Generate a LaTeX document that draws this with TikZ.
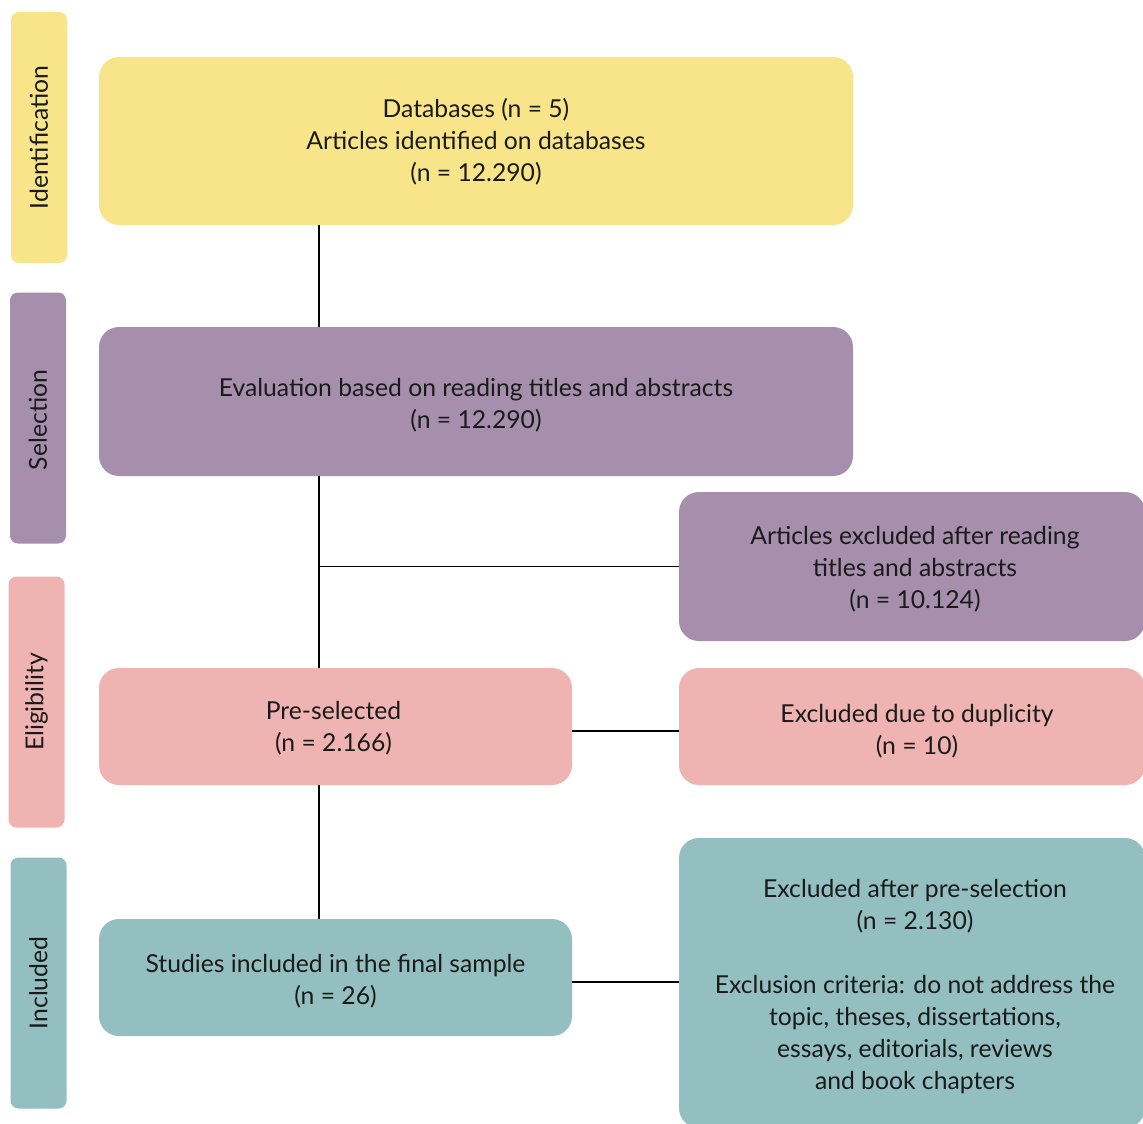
\documentclass[tikz,border=0pt]{standalone}
\usepackage{fontspec}
\setmainfont{Lato}
\usetikzlibrary{calc}
\definecolor{cyel}{RGB}{248,229,138}
\definecolor{cpur}{RGB}{166,143,172}
\definecolor{cpink}{RGB}{239,180,178}
\definecolor{cteal}{RGB}{147,191,192}
\definecolor{ctext}{RGB}{26,26,26}
\tikzset{
  box/.style={rectangle, draw=none, inner sep=0pt, rounded corners=20pt},
  boxtext/.style={inner sep=0pt, align=center, text=ctext,
    font=\fontsize{24.7}{32}\selectfont},
  side/.style={rectangle, draw=none, inner sep=0pt, rounded corners=8pt,
    minimum width=56pt, minimum height=251pt},
  sidelabel/.style={rotate=90, inner sep=0pt, text=ctext, font=\fontsize{24.7}{32}\selectfont},
  conn/.style={line width=1.6pt, black}
}
\begin{document}
\begin{tikzpicture}[x=1pt,y=-1pt]
\clip (0,0) rectangle (1143,1124);
\fill[white] (0,0) rectangle (1143,1124);
% side stage boxes
\node[side, fill=cyel] (sid) at (39,137.5) {};
\node[sidelabel] (sidt) at (sid.center) {Identification};
\node[side, fill=cpur] (ssel) at (38,418) {};
\node[sidelabel] (sselt) at ([yshift=-2pt]ssel.center) {Selection};
\node[side, fill=cpink] (selig) at (36.5,702) {};
\node[sidelabel] (seligt) at (selig.center) {Eligibility};
\node[side, fill=cteal] (sinc) at (38.5,983) {};
\node[sidelabel] (sinct) at (sinc.center) {Included};
% main boxes
\node[box, fill=cyel, minimum width=754pt, minimum height=168pt] (db) at (476,141) {};
\node[boxtext] (dbt) at ([yshift=-1pt]db.center)
  {Databases (n = 5)\\Articles identified on databases\\(n = 12.290)};
\node[box, fill=cpur, minimum width=754pt, minimum height=149pt] (eval) at (476,401.5) {};
\node[boxtext] (evalt) at ([yshift=-4pt]eval.center)
  {Evaluation based on reading titles and abstracts\\(n = 12.290)};
\node[box, fill=cpur, minimum width=466pt, minimum height=149pt] (exa) at (912,566.5) {};
\node[boxtext] (exat) at ([xshift=3pt,yshift=-3pt]exa.center)
  {Articles excluded after reading\\titles and abstracts\\(n = 10.124)};
\node[box, fill=cpink, minimum width=473pt, minimum height=117pt] (pre) at (335.5,726.5) {};
\node[boxtext] (pret) at ([xshift=-2pt,yshift=-2pt]pre.center)
  {Pre-selected\\(n = 2.166)};
\node[box, fill=cpink, minimum width=466pt, minimum height=117pt] (dup) at (912,726.5) {};
\node[boxtext] (dupt) at ([xshift=5pt,yshift=-5pt]dup.center)
  {Excluded due to duplicity\\(n = 10)};
\node[box, fill=cteal, minimum width=473pt, minimum height=117pt] (stu) at (335.5,977.5) {};
\node[boxtext] (stut) at ([yshift=-4pt]stu.center)
  {Studies included in the final sample\\(n = 26)};
\node[box, fill=cteal, minimum width=466pt, minimum height=290pt] (exp) at (912,983) {};
\node[boxtext] (expt) at ([xshift=3pt,yshift=-4pt]exp.center)
  {Excluded after pre-selection\\(n = 2.130)\\[32pt]Exclusion criteria: do not address the\\topic, theses, dissertations,\\essays, editorials, reviews\\and book chapters};
% connectors
\coordinate (spine) at (319,0);
\coordinate (ydup) at (0,731);
\coordinate (ystu) at (0,982);
\draw[conn] (db.south -| spine) -- (eval.north -| spine);
\draw[conn] (eval.south -| spine) -- (pre.north -| spine);
\draw[conn] (pre.south -| spine) -- (stu.north -| spine);
\draw[conn] (exa.west -| spine) -- (exa.west);
\draw[conn] (pre.east |- ydup) -- (dup.west |- ydup);
\draw[conn] (stu.east |- ystu) -- (exp.west |- ystu);
\end{tikzpicture}
\end{document}
